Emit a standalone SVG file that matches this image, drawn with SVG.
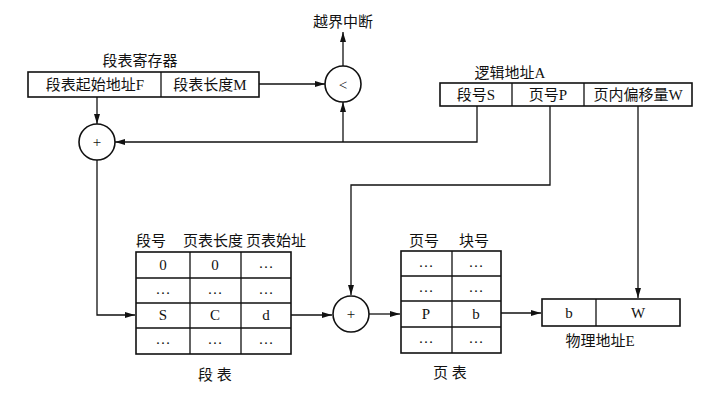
<svg xmlns="http://www.w3.org/2000/svg" width="707" height="400" viewBox="0 0 707 400">
<style>
text{font-family:"Liberation Serif","Noto Sans CJK SC",serif;font-size:15px;fill:#111;text-anchor:middle}
.b{fill:#fff;stroke:#111;stroke-width:1.6}
.l{fill:none;stroke:#111;stroke-width:1.3}
</style>
<defs><marker id="a" markerWidth="10" markerHeight="6" refX="10" refY="3" orient="auto" markerUnits="userSpaceOnUse"><path d="M0,0L10,3L0,6z" fill="#111"/></marker></defs>
<g id="connectors" class="l">
<path d="M343,66V32" marker-end="url(#a)"/>
<path d="M259,84H325" marker-end="url(#a)"/>
<path d="M97,97V124" marker-end="url(#a)"/>
<path d="M477,106V142H115" marker-end="url(#a)"/>
<path d="M343,142V102" marker-end="url(#a)"/>
<path d="M97,160V315H135" marker-end="url(#a)"/>
<path d="M550,106V185H351V295" marker-end="url(#a)"/>
<path d="M291,315H332" marker-end="url(#a)"/>
<path d="M369,314H400" marker-end="url(#a)"/>
<path d="M501,313H541" marker-end="url(#a)"/>
<path d="M638,106V298" marker-end="url(#a)"/>
</g>
<g id="interrupt"><text x="343" y="27">越界中断</text></g>
<g id="register"><text x="140" y="66">段表寄存器</text><rect class="b" x="28" y="72" width="231" height="25"/><path class="l" d="M161,72V97"/><text x="95" y="90">段表起始地址F</text><text x="210" y="90">段表长度M</text></g>
<g id="compare"><circle class="b" cx="343" cy="84" r="18"/><text x="343" y="90" font-size="20">&lt;</text></g>
<g id="logic"><text x="510" y="78">逻辑地址A</text><rect class="b" x="440" y="83" width="252" height="23"/><path class="l" d="M512,83V106M584,83V106"/><text x="476" y="100">段号S</text><text x="548" y="100">页号P</text><text x="638" y="100">页内偏移量W</text></g>
<g id="plus1"><circle class="b" cx="97" cy="142" r="18"/><text x="97" y="147">+</text></g>
<g id="segtable">
<text x="151" y="246">段号</text><text x="213" y="246">页表长度</text><text x="276" y="246">页表始址</text>
<rect class="b" x="136" y="252" width="155" height="102"/>
<path class="l" d="M190,252V354M241,252V354M136,278H291M136,303H291M136,328H291"/>
<text x="163" y="270">0</text><text x="215" y="270">0</text><text x="266" y="268">…</text>
<text x="163" y="294">…</text><text x="215" y="294">…</text><text x="266" y="294">…</text>
<text x="163" y="320">S</text><text x="215" y="320">C</text><text x="266" y="320">d</text>
<text x="163" y="344">…</text><text x="215" y="344">…</text><text x="266" y="344">…</text>
<text x="215" y="380">段  表</text>
</g>
<g id="plus2"><circle class="b" cx="351" cy="314" r="18"/><text x="351" y="319">+</text></g>
<g id="pagetable">
<text x="424" y="246">页号</text><text x="474" y="246">块号</text>
<rect class="b" x="401" y="251" width="100" height="102"/>
<path class="l" d="M452,251V353M401,276H501M401,301H501M401,327H501"/>
<text x="426" y="267">…</text><text x="476" y="267">…</text>
<text x="426" y="292">…</text><text x="476" y="292">…</text>
<text x="426" y="319">P</text><text x="476" y="319">b</text>
<text x="426" y="343">…</text><text x="476" y="343">…</text>
<text x="450" y="378">页  表</text>
</g>
<g id="physical"><rect class="b" x="542" y="299" width="138" height="27"/><path class="l" d="M596,299V326"/><text x="569" y="318">b</text><text x="638" y="318">W</text><text x="600" y="346">物理地址E</text></g>
</svg>
